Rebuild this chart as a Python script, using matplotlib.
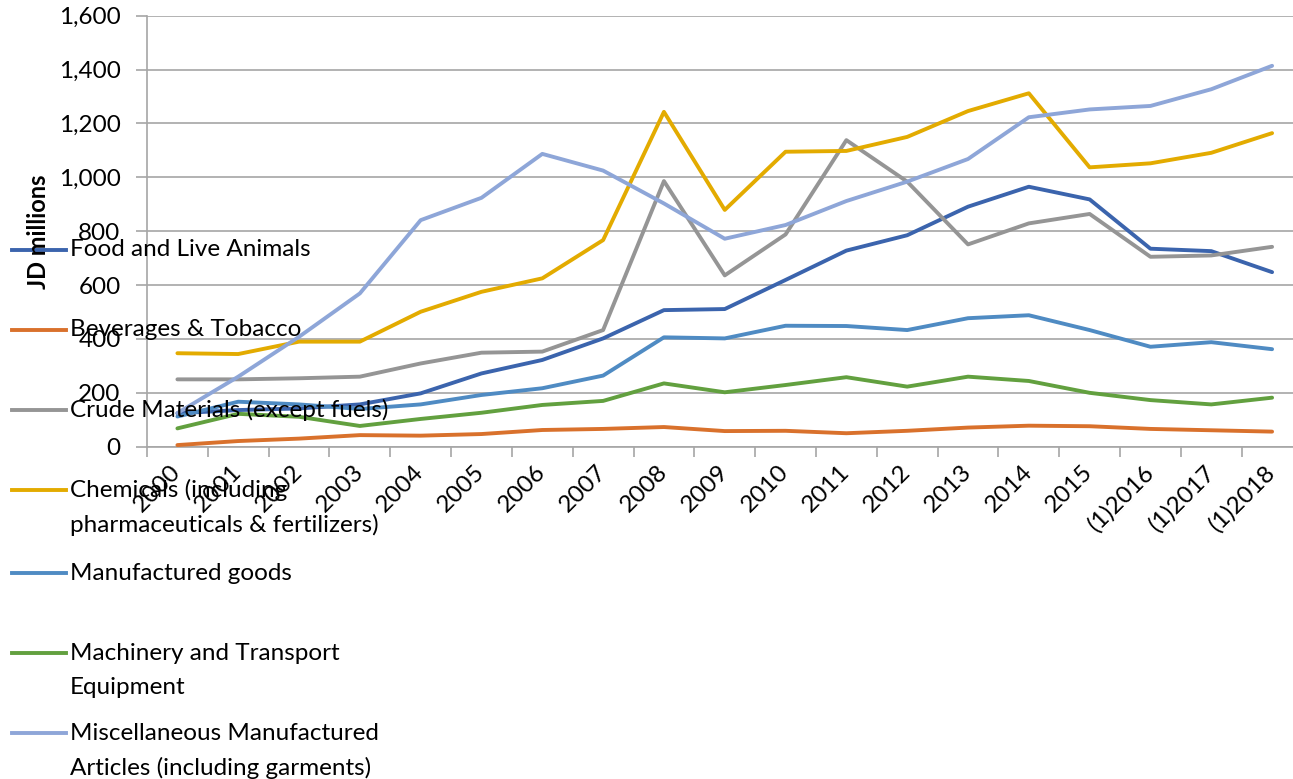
import matplotlib
matplotlib.use("Agg")
import matplotlib.pyplot as plt
from matplotlib.lines import Line2D
from matplotlib.ticker import FuncFormatter, FixedLocator

plt.rcParams['font.family'] = ['Lato', 'DejaVu Sans']

years = ["2000", "2001", "2002", "2003", "2004", "2005", "2006", "2007", "2008",
         "2009", "2010", "2011", "2012", "2013", "2014", "2015",
         "(1)2016", "(1)2017", "(1)2018"]

food = [124, 136, 142, 157, 198, 272, 322, 402, 507, 511, 619, 728, 785, 891, 965, 918, 735, 726, 648]
beverages = [6, 21, 30, 43, 41, 47, 62, 66, 73, 58, 59, 50, 59, 71, 78, 76, 66, 61, 56]
crude = [250, 250, 254, 260, 309, 349, 353, 433, 986, 636, 788, 1138, 984, 751, 829, 864, 705, 710, 742]
chemicals = [347, 344, 390, 390, 501, 575, 625, 767, 1243, 879, 1095, 1098, 1150, 1246, 1312, 1037, 1052, 1091, 1164]
manufactured = [112, 167, 157, 140, 157, 192, 217, 264, 406, 402, 449, 448, 433, 477, 488, 433, 371, 388, 362]
machinery = [68, 122, 111, 77, 103, 126, 155, 170, 235, 202, 229, 258, 223, 260, 244, 200, 173, 157, 182]
misc = [125, 260, 408, 569, 841, 924, 1087, 1025, 903, 772, 823, 912, 984, 1068, 1223, 1252, 1265, 1327, 1414]

labels = ["Food and Live Animals",
          "Beverages & Tobacco",
          "Crude Materials (except fuels)",
          "Chemicals (including\npharmaceuticals & fertilizers)",
          "Manufactured goods",
          "Machinery and Transport\nEquipment",
          "Miscellaneous Manufactured\nArticles (including garments)"]
series = [food, beverages, crude, chemicals, manufactured, machinery, misc]
colors = ["#3B64AD", "#D9712C", "#959595", "#E3AB00", "#4F8BC3", "#62A03F", "#8EA6D8"]

W, H = 1293, 779
FS = 17.5
LW = 2.8
fig = plt.figure(figsize=(W / 100, H / 100), dpi=100)

def fx(px):
    return px / W

def fy(py):
    return 1 - py / H

left, right, top, bottom = 147, 1302.5, 15.7, 446.7
ax = fig.add_axes([fx(left), fy(bottom), fx(right - left), (bottom - top) / H])

x = list(range(len(years)))
for vals, col in zip(series, colors):
    ax.plot(x, vals, color=col, lw=LW, solid_capstyle='round', solid_joinstyle='round', zorder=3)

ax.set_xlim(-0.5, len(years) - 0.5)
ax.set_ylim(0, 1600)
ax.set_yticks(range(0, 1601, 200))
ax.yaxis.set_major_formatter(FuncFormatter(lambda v, p: f"{int(v):,}"))
ax.grid(axis='y', color='#A6A6A6', lw=1.2, zorder=0)

ax.xaxis.set_major_locator(FixedLocator([i - 0.5 for i in range(len(years) + 1)]))
ax.xaxis.set_minor_locator(FixedLocator(x))
ax.set_xticklabels([], minor=False)
ax.set_xticklabels(years, minor=True, rotation=45, ha='right', va='center',
                   rotation_mode='anchor', fontsize=FS)
ax.tick_params(axis='x', which='major', length=7, color='#A6A6A6', width=1.2)
ax.tick_params(axis='x', which='minor', length=0, pad=16)
ax.tick_params(axis='y', length=8, color='#A6A6A6', width=1.2, labelsize=FS, pad=11)

for s in ['top', 'right']:
    ax.spines[s].set_visible(False)
for s in ['left', 'bottom']:
    ax.spines[s].set_color('#A6A6A6')
    ax.spines[s].set_linewidth(1.2)

fig.text(fx(38), fy(232), "JD millions", rotation=90, fontsize=17, fontweight='bold',
         ha='center', va='center')

# legend (drawn manually to match layout)
entry_y = [250, 330, 410, 490, 573, 653, 733]
for lab, col, yy in zip(labels, colors, entry_y):
    fig.add_artist(Line2D([fx(12), fx(66)], [fy(yy), fy(yy)], color=col, lw=LW,
                          transform=fig.transFigure))
    for k, line in enumerate(lab.split("\n")):
        fig.text(fx(70), fy(yy + 34.5 * k), line, fontsize=FS, ha='left', va='center')

fig.savefig("out.png", dpi=100)
